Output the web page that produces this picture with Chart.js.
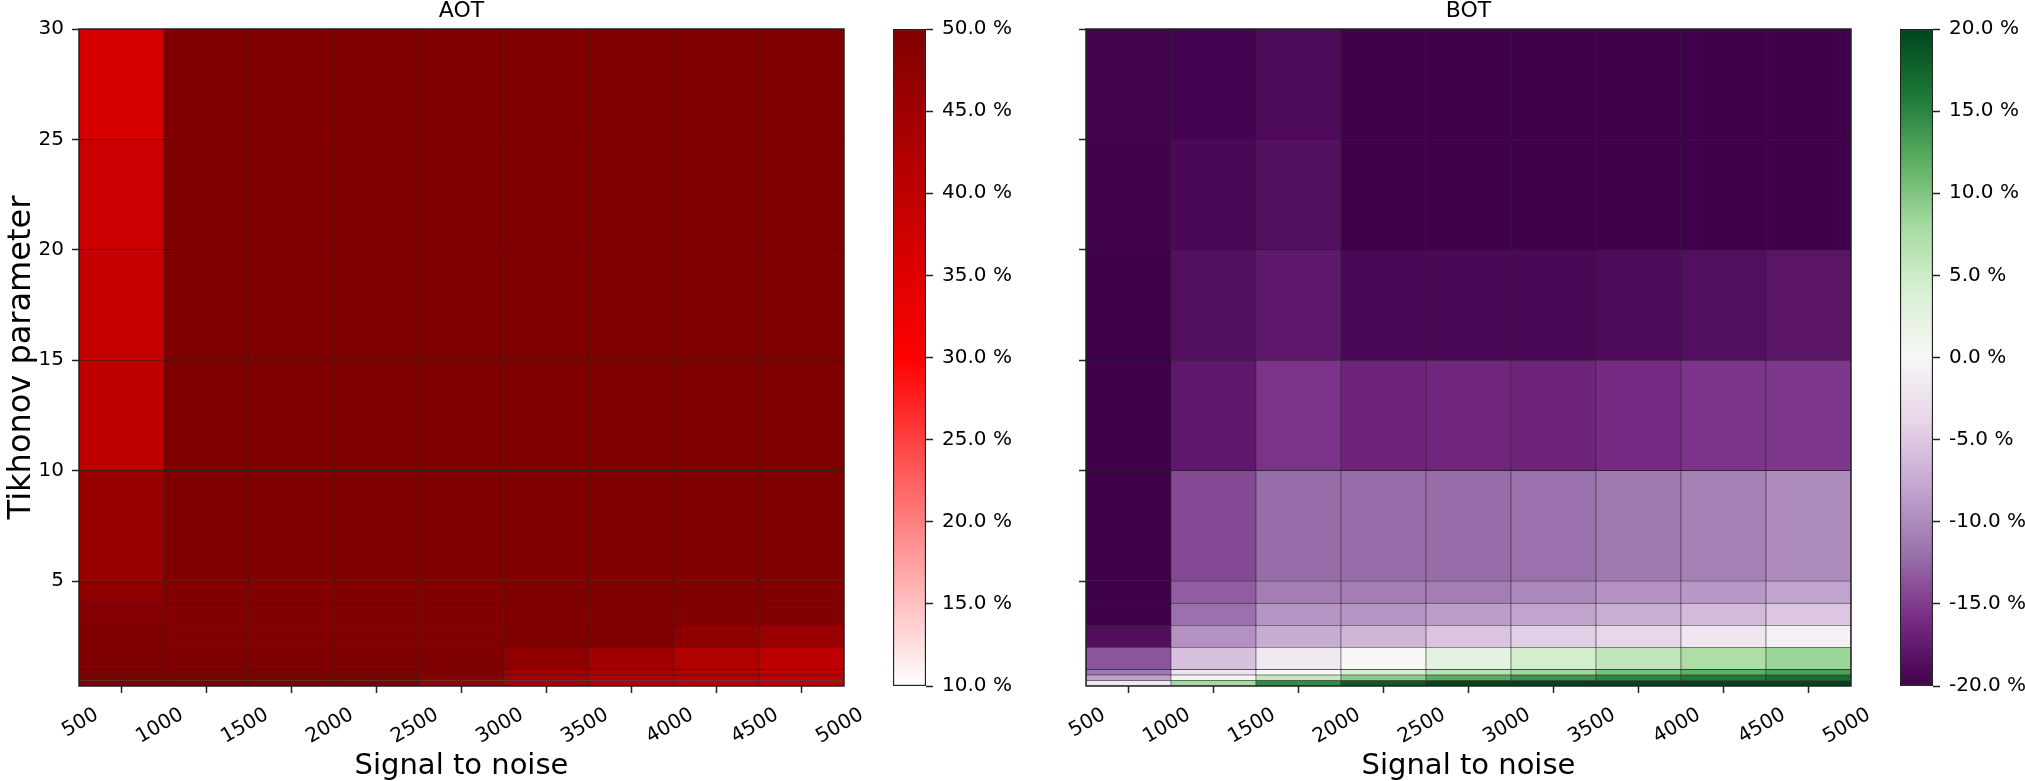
<!DOCTYPE html>
<html>
<head>
<meta charset="utf-8">
<script src="https://cdn.jsdelivr.net/npm/chart.js@4.4.1/dist/chart.umd.min.js"></script>
<style>
  html, body { margin: 0; padding: 0; background: #fff; }
  body { width: 2025px; height: 781px; position: relative; overflow: hidden; }
  canvas { position: absolute; top: 0; }
</style>
</head>
<body>
<canvas id="aot" width="870" height="781" style="left:0"></canvas>
<canvas id="aotBar" width="150" height="781" style="left:870px"></canvas>
<canvas id="bot" width="870" height="781" style="left:1007px"></canvas>
<canvas id="botBar" width="148" height="781" style="left:1877px"></canvas>
<script>
// cell edges and ticks
const snrEdges = [500, 1000, 1500, 2000, 2500, 3000, 3500, 4000, 4500, 5000];
const tikhEdges = [0.25, 0.5, 0.75, 1, 2, 3, 4, 5, 10, 15, 20, 25, 30];
const snrTicks = [500, 1000, 1500, 2000, 2500, 3000, 3500, 4000, 4500, 5000];
const tikhTicks = [5, 10, 15, 20, 25, 30];
const aotTicks = [10, 15, 20, 25, 30, 35, 40, 45, 50];
const botTicks = [-20, -15, -10, -5, 0, 5, 10, 15, 20];

// relative error in %, one row per Tikhonov band (bottom to top), one value per SNR band
const aot = [
  [50, 50, 50, 50, 46, 43, 41, 40, 39.5],          // 0.25-0.5
  [50, 50, 50, 50, 48, 44, 42, 41, 39.8],          // 0.5-0.75
  [50, 50, 50, 50, 49, 45, 43, 42, 40],            // 0.75-1
  [50, 50, 50, 50, 50, 47.5, 45, 42.5, 40.4],      // 1-2
  [50, 49.8, 49.8, 49.8, 49.8, 50, 50, 47.8, 46],  // 2-3
  [49.2, 49.7, 49.7, 49.7, 49.7, 49.7, 49.8, 49.8, 49.7], // 3-4
  [47.8, 49.6, 49.6, 49.6, 49.6, 50, 50, 50, 49.7],// 4-5
  [46, 50, 50, 50, 50, 50, 50, 50, 50],            // 5-10
  [40.2, 50, 50, 50, 50, 50, 50, 50, 50],          // 10-15
  [39, 50, 50, 50, 50, 50, 50, 50, 50],            // 15-20
  [38.3, 50, 50, 50, 50, 50, 50, 50, 50],          // 20-25
  [36.3, 50, 50, 50, 50, 50, 50, 50, 50],          // 25-30
];
const bot = [
  [-1.75, 8.2, 14.6, 18.3, 19.8, 20, 20, 20, 20],
  [-8.3, -0.25, 5.6, 9.4, 12, 13.8, 14.9, 15.8, 16.8],
  [-11.3, -2.3, 0.1, 4.2, 6.6, 8.3, 10.3, 11.8, 12.8],
  [-13.5, -5.6, -1.75, 0.1, 2.5, 4.5, 5.9, 7.5, 8.5],
  [-18.7, -9.5, -7.35, -6.5, -5.4, -4.3, -3.75, -2, -0.75],
  [-20, -11.9, -9.2, -9.2, -8.6, -8.1, -7.2, -6.2, -5.2],
  [-20, -13.1, -11, -11, -11, -10.2, -9.5, -9, -8.1],
  [-20, -14.3, -12.1, -12.1, -12.1, -11.9, -11.3, -10.7, -10],
  [-20, -17.8, -15.5, -16.7, -16.5, -16.6, -16, -15.4, -15.2],
  [-20, -18.5, -17.7, -19.3, -19.2, -19.2, -19, -18.6, -18],
  [-19.8, -19.2, -18.5, -20, -20, -20, -20, -20, -20],
  [-19.7, -19.6, -19, -20, -20, -20, -20, -20, -20],
];

const aotStops = [[0, [255, 255, 255]], [0.5, [255, 0, 0]], [1, [128, 0, 0]]];
const botStops = [
  [0, [64, 0, 75]], [0.1, [118, 42, 131]], [0.2, [153, 112, 171]], [0.3, [194, 165, 207]],
  [0.4, [231, 212, 232]], [0.5, [247, 247, 247]], [0.6, [217, 240, 211]], [0.7, [166, 219, 160]],
  [0.8, [90, 174, 97]], [0.9, [27, 120, 55]], [1, [0, 68, 27]]
];

const FONT = 'DejaVu Sans';
const INK = '#222';

function sample(stops, t) {
  t = Math.max(0, Math.min(1, t));
  for (let i = 1; i < stops.length; i++) {
    if (t <= stops[i][0]) {
      const [t0, c0] = stops[i - 1], [t1, c1] = stops[i];
      const f = (t - t0) / (t1 - t0);
      const c = c0.map((v, k) => Math.round(v + (c1[k] - v) * f));
      return `rgb(${c[0]},${c[1]},${c[2]})`;
    }
  }
  const c = stops[stops.length - 1][1];
  return `rgb(${c[0]},${c[1]},${c[2]})`;
}

const frame = {
  id: 'frame',
  afterDatasetsDraw(chart) {
    const {ctx, chartArea: a} = chart;
    ctx.save();
    ctx.strokeStyle = INK;
    ctx.lineWidth = 1.5;
    ctx.strokeRect(a.left, a.top, a.right - a.left, a.bottom - a.top);
    ctx.restore();
  }
};

function heatmap(id, title, rows, stops, vmin, vmax, withYLabels) {
  const datasets = rows.map((vals, r) => ({
    data: vals.map((v, c) => ({x: (snrEdges[c] + snrEdges[c + 1]) / 2, y: [tikhEdges[r], tikhEdges[r + 1]]})),
    backgroundColor: vals.map(v => sample(stops, (v - vmin) / (vmax - vmin))),
    borderColor: INK,
    borderWidth: 0.6,
    borderSkipped: false,
    grouped: false,
    barPercentage: 1,
    categoryPercentage: 1
  }));
  return new Chart(document.getElementById(id), {
    type: 'bar',
    data: {datasets},
    options: {
      responsive: false,
      animation: false,
      layout: {padding: {left: 0, right: 26, top: 0, bottom: 0}},
      plugins: {
        legend: {display: false},
        tooltip: {enabled: false},
        title: {
          display: true, text: title, fullSize: false, color: '#000',
          font: {family: FONT, size: 22, weight: 'normal', lineHeight: 1},
          padding: {top: 0, bottom: 7}
        }
      },
      scales: {
        x: {
          type: 'linear', min: 500, max: 5000, offset: false,
          afterBuildTicks: s => { s.ticks = snrTicks.map(v => ({value: v})); },
          afterFit: s => { s.height = 95; },
          ticks: {
            color: '#000', font: {family: FONT, size: 20}, autoSkip: false,
            minRotation: 30, maxRotation: 30, padding: 10, labelOffset: 18,
            callback: v => String(v)
          },
          grid: {drawOnChartArea: false, tickLength: 7, tickColor: INK, tickWidth: 1.5},
          border: {display: false},
          title: {
            display: true, text: 'Signal to noise', color: '#000',
            font: {family: FONT, size: 29, lineHeight: 1}, padding: {top: 0, bottom: 0.5}
          }
        },
        y: {
          type: 'linear', min: 0.25, max: 30,
          afterBuildTicks: s => { s.ticks = tikhTicks.map(v => ({value: v})); },
          afterFit: s => { s.width = 79; },
          ticks: {
            color: '#000', font: {family: FONT, size: 20}, padding: 8,
            callback: v => withYLabels ? String(v) : ''
          },
          grid: {drawOnChartArea: false, tickLength: 7, tickColor: INK, tickWidth: 1.5},
          border: {display: false},
          title: {
            display: withYLabels, text: 'Tikhonov parameter', color: '#000',
            font: {family: FONT, size: 32, lineHeight: 1}, padding: {top: 6, bottom: 0}
          }
        }
      }
    },
    plugins: [frame]
  });
}

function colorbar(id, width, stops, vmin, vmax, ticks) {
  const grad = chart => {
    const a = chart.chartArea;
    if (!a) return null;
    const g = chart.ctx.createLinearGradient(0, a.bottom, 0, a.top);
    stops.forEach(([t, c]) => g.addColorStop(t, `rgb(${c[0]},${c[1]},${c[2]})`));
    return g;
  };
  return new Chart(document.getElementById(id), {
    type: 'bar',
    data: {
      labels: [''],
      datasets: [{
        data: [[vmin, vmax]],
        backgroundColor: ctx => grad(ctx.chart),
        borderColor: INK, borderWidth: 1.5, borderSkipped: false,
        barPercentage: 1, categoryPercentage: 1
      }]
    },
    options: {
      responsive: false,
      animation: false,
      layout: {padding: {left: 23, right: 0, top: 29, bottom: 95}},
      plugins: {legend: {display: false}, tooltip: {enabled: false}},
      scales: {
        x: {display: false},
        y: {
          position: 'right', min: vmin, max: vmax,
          afterBuildTicks: s => { s.ticks = ticks.map(v => ({value: v})); },
          afterFit: s => { s.width = width - 56; },
          ticks: {
            color: '#000', font: {family: FONT, size: 20}, padding: 9,
            callback: v => v.toFixed(1) + ' %'
          },
          grid: {drawOnChartArea: false, tickLength: 7, tickColor: INK, tickWidth: 1.5},
          border: {display: false}
        }
      }
    }
  });
}

heatmap('aot', 'AOT', aot, aotStops, 10, 50, true);
colorbar('aotBar', 150, aotStops, 10, 50, aotTicks);
heatmap('bot', 'BOT', bot, botStops, -20, 20, false);
colorbar('botBar', 148, botStops, -20, 20, botTicks);
</script>
</body>
</html>
